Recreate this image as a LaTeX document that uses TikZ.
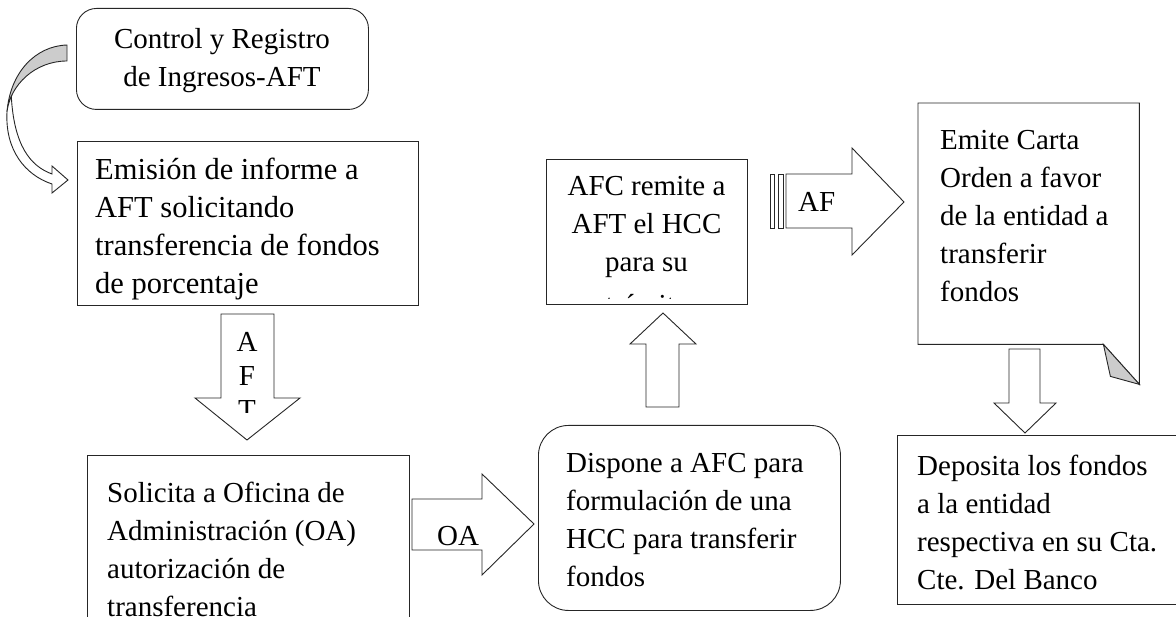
\documentclass[tikz,border=0pt]{standalone}
\usepackage{fontspec}
\setmainfont{Liberation Serif}
\begin{document}
\begin{tikzpicture}[x=1pt,y=-1pt,
  ln/.style={draw=black!85, line width=0.9pt},
  boxr/.style={ln, rectangle, inner sep=0pt, anchor=north west, fill=white},
  txt/.style={inner sep=0pt, font=\fontsize{29}{38}\selectfont},
  txtb/.style={inner sep=0pt, font=\fontsize{30.5}{38}\selectfont},
  blockarrow/.style={ln, fill=white, line join=miter},
  foldfill/.style={ln, fill=gray!40}]
\useasboundingbox (0,0) rectangle (1176,617);
\clip (0,0) rectangle (1176,617);

% ---- boxes
\node[boxr, rounded corners=20pt, minimum width=292pt, minimum height=101pt] (b1) at (76,8) {};
\node[boxr, minimum width=341pt, minimum height=164pt] (b2) at (77,141) {};
\node[boxr, minimum width=322pt, minimum height=200pt] (b3) at (87,455) {};
\node[boxr, rounded corners=30pt, minimum width=302pt, minimum height=185pt] (b4) at (538,425) {};
\node[boxr, minimum width=201pt, minimum height=145pt] (b5) at (546,159) {};
\node[inner sep=0pt, anchor=north west, minimum width=221pt, minimum height=241pt] (b6) at (918,103) {};
\draw[ln, fill=white] (b6.north west) -- (b6.north east) -- ([yshift=-40pt]b6.south east) -- ([xshift=-36pt]b6.south east) -- (b6.south west) -- cycle;
\draw[foldfill] ([yshift=-40pt]b6.south east) -- ([xshift=-29pt,yshift=-32pt]b6.south east) -- ([xshift=-36pt]b6.south east) -- cycle;
\node[boxr, minimum width=320pt, minimum height=169pt] (b7) at (897,435) {};

% ---- texts
\node[txt, anchor=base] (t1) at (222,49) {\parbox[t]{290pt}{\centering Control y Registro\\de Ingresos-AFT}};
\node[txtb, anchor=base west] (t2) at (95,180) {\parbox[t]{320pt}{\raggedright Emisión de informe a\\AFT solicitando\\transferencia de fondos\\de porcentaje}};
\node[txt, anchor=base west] (t3) at (107,503) {\parbox[t]{300pt}{\raggedright Solicita a Oficina de\\Administración (OA)\\autorización de\\transferencia}};
\node[txt, anchor=base west] (t4) at (566,473) {\parbox[t]{270pt}{\raggedright Dispone a AFC para\\formulación de una\\HCC para transferir\\fondos}};
\node[txt, anchor=base] (t5) at (646.5,196) {\parbox[t]{200pt}{\centering AFC remite a\\AFT el HCC\\para su}};
\begin{scope}
\clip (b5.north west) rectangle ([yshift=6pt]b5.south east);
\node[txt, anchor=base] (t5b) at (646.5,315) {trámite};
\end{scope}
\node[txt, anchor=base west] (t6) at (940,150) {\parbox[t]{200pt}{\raggedright Emite Carta\\Orden a favor\\de la entidad a\\transferir\\fondos}};
\node[txt, anchor=base west] (t7) at (917,476) {\parbox[t]{260pt}{\raggedright Deposita los fondos\\a la entidad\\respectiva en su Cta.\\Cte. Del Banco}};

% ---- curved arrow from b1 to b2
\draw[foldfill] (67,45) .. controls (35,46) and (10,73) .. (7,112) .. controls (10,85) and (35,61) .. (67,61) -- cycle;
\draw[ln, fill=white, line join=miter] (7,112) .. controls (5,150) and (25,175) .. (52,184) -- (52,193) -- (68,180) -- (52,166) -- (52,174) .. controls (30,166) and (14,145) .. (11.3,96.4) .. controls (9,102) and (7.5,107) .. (7,112);

% ---- AFT down arrow (b2 -> b3)
\draw[blockarrow] (221,314) -- (274,314) -- (274,398) -- (300,398) -- (247,440) -- (195,398) -- (221,398) -- cycle;
\begin{scope}
\clip (195,314) rectangle (300,413);
\node[txt, anchor=base] (la) at (247,352) {A};
\node[txt, anchor=base] (lf) at (247,386) {F};
\node[txt, anchor=base] (lt) at (247,420) {T};
\end{scope}

% ---- OA right arrow (b3 -> b4)
\draw[blockarrow] (412,499) -- (482,499) -- (482,474) -- (534,524) -- (482,575) -- (482,550) -- (412,550) -- cycle;
\node[txt, anchor=base west] (loa) at (437,545) {OA};

% ---- up arrow (b4 -> b5)
\draw[blockarrow] (646,407) -- (646,344) -- (630,344) -- (663,313) -- (696,344) -- (679,344) -- (679,407) -- cycle;

% ---- AF striped right arrow (b5 -> b6)
\draw[ln, fill=white] (770,174) rectangle (774,228);
\draw[ln, fill=white] (778,174) rectangle (783,228);
\draw[blockarrow] (786,174) -- (852,174) -- (852,148) -- (904,202) -- (852,255) -- (852,228) -- (786,228) -- cycle;
\node[txt, anchor=base west] (laf) at (798,212) {AF};

% ---- down arrow (b6 -> b7)
\draw[blockarrow] (1009,349) -- (1040,349) -- (1040,403) -- (1056,403) -- (1025,433) -- (994,403) -- (1009,403) -- cycle;
\end{tikzpicture}
\end{document}
